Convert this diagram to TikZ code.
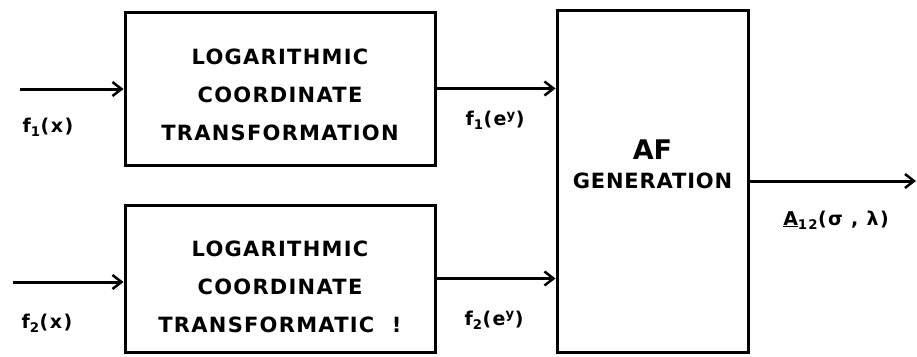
\documentclass[tikz,border=0pt]{standalone}
\usepackage{fontspec}
\setmainfont{DejaVu Sans}
\usetikzlibrary{arrows.meta}
\begin{document}
\begin{tikzpicture}[x=1pt,y=-1pt,
  blk/.style={draw,line width=3pt,inner sep=0pt},
  btxt/.style={inner sep=0pt,align=center,
    font=\bfseries\addfontfeature{LetterSpace=6}\fontsize{21}{38}\selectfont},
  arr/.style={line width=3pt,-{Straight Barb[length=9pt,width=14pt,line width=2.5pt]}},
  lbl/.style={font=\bfseries\addfontfeature{LetterSpace=8}\fontsize{19}{22}\selectfont,inner sep=0pt}]
\useasboundingbox (0,0) rectangle (917,356);
\node[blk,minimum width=310pt,minimum height=153pt] (t1) at (280,88.5) {};
\node[btxt] (t1x) at (280,95) {LOGARITHMIC\\COORDINATE\\TRANSFORMATION};
\node[blk,minimum width=310pt,minimum height=147pt] (t2) at (280,278.5) {};
\node[btxt] (t2x) at (280,287) {LOGARITHMIC\\COORDINATE\\TRANSFORMATIC\phantom{N}!};
\node[blk,minimum width=191pt,minimum height=342pt] (af) at (652.5,181) {};
\node[font=\bfseries\fontsize{27}{30}\selectfont,inner sep=0pt] (aft) at (652.5,150) {AF};
\node[font=\bfseries\addfontfeature{LetterSpace=4}\fontsize{21}{24}\selectfont,inner sep=0pt] (gen) at (652.5,181) {GENERATION};
\coordinate (i1) at (20,89);
\coordinate (i2) at (13,282);
\coordinate (o) at (916,181);
\draw[arr] (i1) -- (i1 -| t1.west);
\draw[arr] (i2) -- (i2 -| t2.west);
\draw[arr] (t1.east) -- (t1.east -| af.west);
\draw[arr] (t2.east) -- (t2.east -| af.west);
\draw[arr] (af.east) -- (o);
\node[lbl] (l1) at (48,127) {f\textsubscript{1}(x)};
\node[lbl] (l2) at (47,323) {f\textsubscript{2}(x)};
\node[lbl] (l3) at (495,120) {f\textsubscript{1}(e\textsuperscript{y})};
\node[lbl] (l4) at (494,320) {f\textsubscript{2}(e\textsuperscript{y})};
\node[lbl] (l5) at (836,220) {\underline{A}\textsubscript{12}(σ , λ)};
\end{tikzpicture}
\end{document}
